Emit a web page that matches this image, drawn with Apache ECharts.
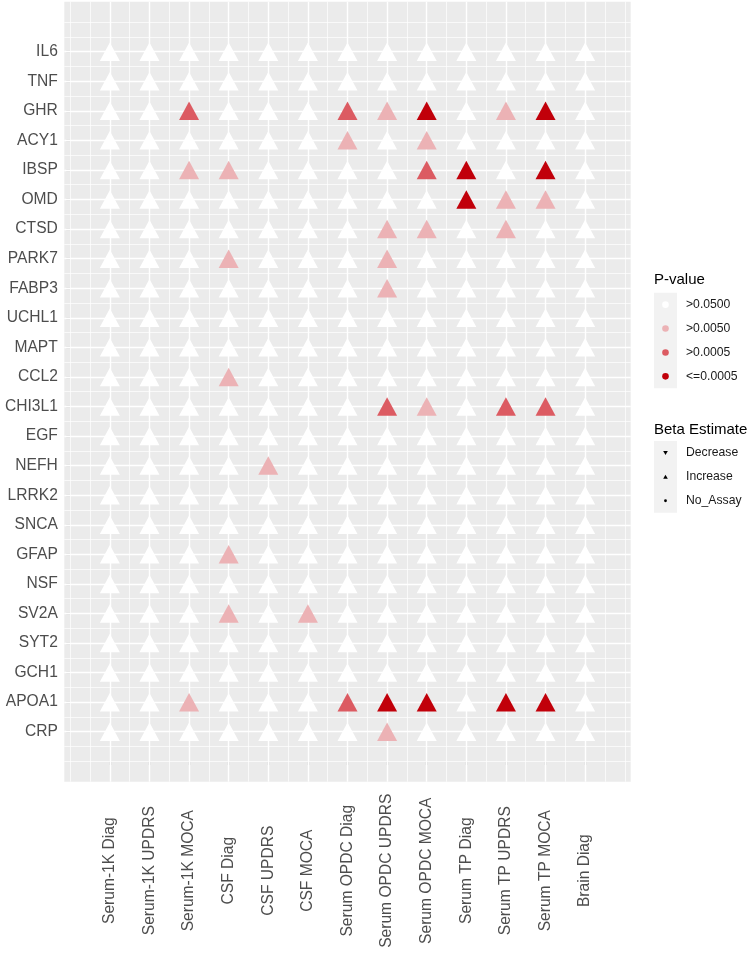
<!DOCTYPE html>
<html><head><meta charset="utf-8">
<script src="https://cdn.jsdelivr.net/npm/echarts@6/dist/echarts.min.js"></script>
<style>html,body{margin:0;padding:0;background:#fff}#c{width:750px;height:955px}</style>
</head><body><div id="c"></div>
<script>
const columns = ['Serum-1K Diag','Serum-1K UPDRS','Serum-1K MOCA','CSF Diag','CSF UPDRS','CSF MOCA','Serum OPDC Diag','Serum OPDC UPDRS','Serum OPDC MOCA','Serum TP Diag','Serum TP UPDRS','Serum TP MOCA','Brain Diag'];
const proteins = ['IL6','TNF','GHR','ACY1','IBSP','OMD','CTSD','PARK7','FABP3','UCHL1','MAPT','CCL2','CHI3L1','EGF','NEFH','LRRK2','SNCA','GFAP','NSF','SV2A','SYT2','GCH1','APOA1','CRP'];
// P-value class for each protein (row) and column: 0 '>0.0500', 1 '>0.0050', 2 '>0.0005', 3 '<=0.0005'
const pClass = [
  [0,0,0,0,0,0,0,0,0,0,0,0,0], // IL6
  [0,0,0,0,0,0,0,0,0,0,0,0,0], // TNF
  [0,0,2,0,0,0,2,1,3,0,1,3,0], // GHR
  [0,0,0,0,0,0,1,0,1,0,0,0,0], // ACY1
  [0,0,1,1,0,0,0,0,2,3,0,3,0], // IBSP
  [0,0,0,0,0,0,0,0,0,3,1,1,0], // OMD
  [0,0,0,0,0,0,0,1,1,0,1,0,0], // CTSD
  [0,0,0,1,0,0,0,1,0,0,0,0,0], // PARK7
  [0,0,0,0,0,0,0,1,0,0,0,0,0], // FABP3
  [0,0,0,0,0,0,0,0,0,0,0,0,0], // UCHL1
  [0,0,0,0,0,0,0,0,0,0,0,0,0], // MAPT
  [0,0,0,1,0,0,0,0,0,0,0,0,0], // CCL2
  [0,0,0,0,0,0,0,2,1,0,2,2,0], // CHI3L1
  [0,0,0,0,0,0,0,0,0,0,0,0,0], // EGF
  [0,0,0,0,1,0,0,0,0,0,0,0,0], // NEFH
  [0,0,0,0,0,0,0,0,0,0,0,0,0], // LRRK2
  [0,0,0,0,0,0,0,0,0,0,0,0,0], // SNCA
  [0,0,0,1,0,0,0,0,0,0,0,0,0], // GFAP
  [0,0,0,0,0,0,0,0,0,0,0,0,0], // NSF
  [0,0,0,1,0,1,0,0,0,0,0,0,0], // SV2A
  [0,0,0,0,0,0,0,0,0,0,0,0,0], // SYT2
  [0,0,0,0,0,0,0,0,0,0,0,0,0], // GCH1
  [0,0,1,0,0,0,2,3,3,0,3,3,0], // APOA1
  [0,0,0,0,0,0,0,1,0,0,0,0,0]  // CRP
];
const cellDirection = 'Increase'; // every cell in the figure is an "Increase"
const pLabels = ['>0.0500','>0.0050','>0.0005','<=0.0005'];
const betaLabels = ['Decrease','Increase','No_Assay'];
const pColors = ['#FFFFFF','#ECB2B5','#DC5B62','#C1000A'];

const nRow = proteins.length, nCol = columns.length;
const data = [];
pClass.forEach((row, i) => row.forEach((c, j) => data.push([j + 1, nRow - i, c])));

const xTicks = columns.map((_, j) => j + 1);
const yTicks = proteins.map((_, i) => i + 1);
const xMinor = [0]; for (let j = 0; j < nCol; j++) xMinor.push(j + 0.5); xMinor.push(nCol + 0.5, nCol + 1);
const yMinor = [0]; for (let i = 0; i < nRow; i++) yMinor.push(i + 0.5); yMinor.push(nRow + 0.5, nRow + 1);

const majW = 1.4, minW = 0.7;
const gridLines = []
  .concat(xMinor.map(v => ({xAxis: v, lineStyle: {width: minW}})))
  .concat(yMinor.map(v => ({yAxis: v, lineStyle: {width: minW}})))
  .concat(xTicks.map(v => ({xAxis: v, lineStyle: {width: majW}})))
  .concat(yTicks.map(v => ({yAxis: v, lineStyle: {width: majW}})));

const FONT = 'Liberation Sans, Arial, sans-serif';
const keyX = 654, keyW = 23, keyH = 23.9;
const pBoxTop = 292.7, bBoxTop = 441;
const graphic = [
  {type:'rect', shape:{x:64.3, y:1.7, width:566.4, height:780}, style:{fill:'#EBEBEB'}, z:-10, silent:true},
  {type:'text', x:keyX, y:279.5, style:{text:'P-value', font:'15px ' + FONT, fill:'#000', verticalAlign:'middle'}},
  {type:'rect', shape:{x:keyX, y:pBoxTop, width:keyW, height:keyH * pLabels.length}, style:{fill:'#F2F2F2'}},
  {type:'text', x:keyX, y:430, style:{text:'Beta Estimate', font:'15px ' + FONT, fill:'#000', verticalAlign:'middle'}},
  {type:'rect', shape:{x:keyX, y:bBoxTop, width:keyW, height:keyH * betaLabels.length}, style:{fill:'#F2F2F2'}}
];
pLabels.forEach((lab, k) => {
  const cy = pBoxTop + keyH * (k + 0.5);
  graphic.push({type:'circle', shape:{cx:keyX + keyW / 2, cy:cy, r:3.3}, style:{fill:pColors[k]}});
  graphic.push({type:'text', x:686, y:cy, style:{text:lab, font:'12.2px ' + FONT, fill:'#1A1A1A', verticalAlign:'middle'}});
});
betaLabels.forEach((lab, k) => {
  const cy = bBoxTop + keyH * (k + 0.5), cx = keyX + keyW / 2;
  let shape;
  if (lab === 'Decrease') shape = {type:'polygon', shape:{points:[[cx-2.3,cy-2],[cx+2.3,cy-2],[cx,cy+2]]}, style:{fill:'#000'}};
  else if (lab === 'Increase') shape = {type:'polygon', shape:{points:[[cx-2.3,cy+2],[cx+2.3,cy+2],[cx,cy-2]]}, style:{fill:'#000'}};
  else shape = {type:'circle', shape:{cx:cx, cy:cy, r:1.4}, style:{fill:'#000'}};
  graphic.push(shape);
  graphic.push({type:'text', x:686, y:cy, style:{text:lab, font:'12.2px ' + FONT, fill:'#1A1A1A', verticalAlign:'middle'}});
});

const chart = echarts.init(document.getElementById('c'), null, {renderer:'canvas'});
chart.setOption({
  animation: false,
  backgroundColor: '#FFFFFF',
  textStyle: {fontFamily: FONT},
  grid: {left: 64.3, right: 119.3, top: 1.7, bottom: 173.3, containLabel: false},
  xAxis: {
    type: 'value', min: -0.15, max: nCol + 1.15,
    axisLine: {show: false}, splitLine: {show: false},
    axisTick: {show: true, customValues: xTicks, length: 4, lineStyle: {color: '#333333', width: 1.1}},
    axisLabel: {show: true, customValues: xTicks, formatter: v => columns[Math.round(v) - 1] || '',
      rotate: 90, align: 'center', verticalAlign: 'middle', margin: 89,
      fontSize: 15.6, color: '#4D4D4D', fontFamily: FONT}
  },
  yAxis: {
    type: 'value', min: -0.69, max: nRow + 1.69,
    axisLine: {show: false}, splitLine: {show: false},
    axisTick: {show: true, customValues: yTicks, length: 4, lineStyle: {color: '#333333', width: 1.1}},
    axisLabel: {show: true, customValues: yTicks, formatter: v => proteins[nRow - Math.round(v)] || '',
      margin: 6.5, fontSize: 15.6, color: '#4D4D4D', fontFamily: FONT}
  },
  graphic: graphic,
  series: [
    {type: 'scatter', data: [], z: 1, silent: true,
      markLine: {silent: true, symbol: ['none','none'], label: {show: false},
        lineStyle: {color: '#FFFFFF', type: 'solid'}, emphasis: {disabled: true}, data: gridLines, animation: false}},
    {type: 'scatter', z: 5, silent: true, data: data,
      symbol: cellDirection === 'Increase' ? 'triangle' : 'circle', symbolSize: [20, 18.5],
      itemStyle: {opacity: 1, color: p => pColors[p.value[2]]}}
  ]
});
</script></body></html>
